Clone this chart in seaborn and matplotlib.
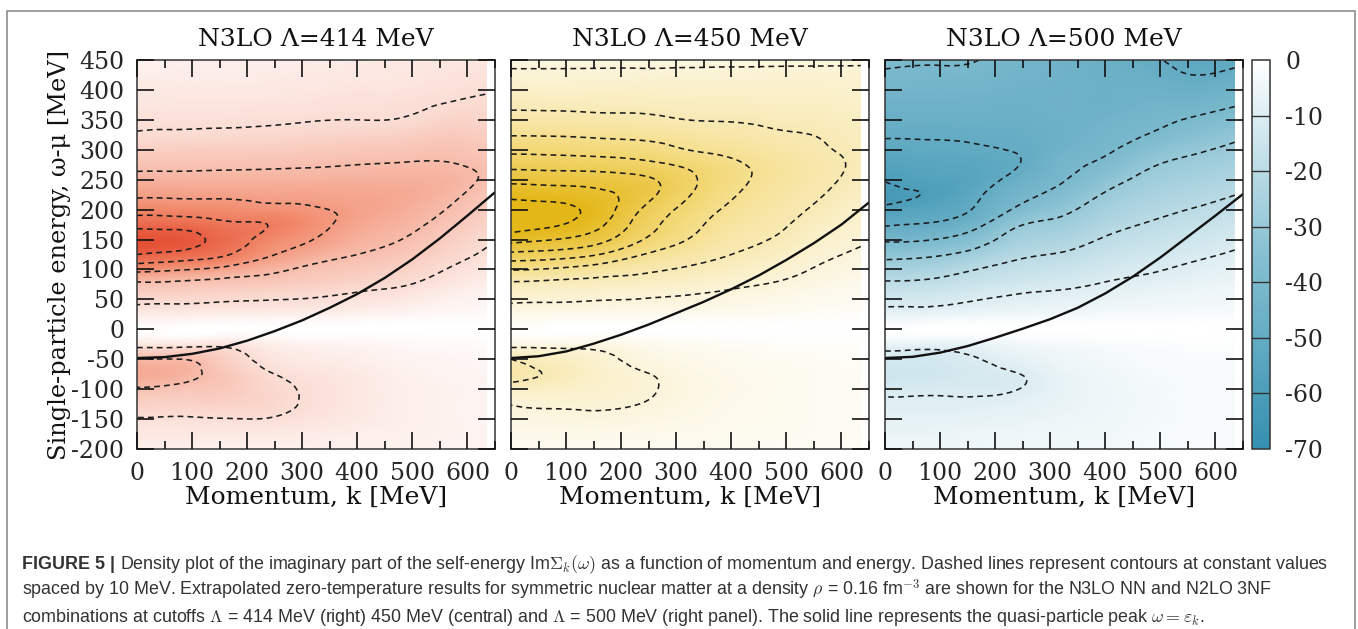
import numpy as np
import matplotlib
matplotlib.use("Agg")
import matplotlib.pyplot as plt
import matplotlib.tri as mtri
from matplotlib.colors import LinearSegmentedColormap, Normalize
from matplotlib.cm import ScalarMappable
from matplotlib.patches import Rectangle
import seaborn as sns

# ---------------------------------------------------------------------------
# Data: Im Sigma_k(omega) [MeV] sampled on a (momentum, energy) grid
# ---------------------------------------------------------------------------
momentum = [0, 80, 160, 240, 320, 400, 480, 560, 635]          # k [MeV]
energy = list(range(-200, 451, 25))                             # omega - mu [MeV]

# one row per energy (from -200 up to 450), one column per momentum
im_sigma_414 = [
    [-4.5, -4.5, -4.5, -4.5, -4.5, -4.0, -4.0, -3.5, -3.0],
    [-7.0, -7.0, -6.5, -6.5, -6.0, -5.0, -4.5, -4.0, -3.5],
    [-9.5, -9.3, -9.8, -9.7, -8.0, -6.5, -5.0, -4.0, -3.5],
    [-14.0, -13.5, -13.5, -12.0, -9.0, -7.0, -5.0, -4.0, -3.5],
    [-19.0, -17.5, -16.0, -12.0, -9.0, -7.0, -5.0, -4.0, -3.5],
    [-25.5, -23.0, -16.5, -10.5, -8.0, -6.5, -4.5, -3.5, -3.0],
    [-21.0, -20.0, -14.0, -8.0, -6.0, -5.0, -3.5, -3.0, -2.5],
    [-7.0, -7.0, -8.0, -5.0, -3.5, -3.0, -2.0, -1.5, -1.0],
    [0.0, 0.0, 0.0, 0.0, 0.0, 0.0, 0.0, 0.0, 0.0],
    [-6.0, -5.7, -5.3, -5.1, -4.8, -4.0, -3.0, -2.0, -1.5],
    [-12.0, -11.5, -10.7, -10.2, -9.6, -8.3, -7.0, -4.5, -3.0],
    [-18.0, -17.8, -16.7, -15.8, -14.3, -12.3, -10.5, -7.5, -5.0],
    [-33.0, -30.7, -27.0, -22.3, -18.1, -16.2, -13.6, -10.0, -7.2],
    [-50.0, -46.5, -41.0, -31.0, -24.5, -20.0, -16.9, -12.8, -9.0],
    [-56.0, -54.0, -46.0, -36.0, -30.0, -23.5, -20.0, -15.0, -10.9],
    [-47.0, -46.0, -42.0, -39.8, -33.0, -26.5, -22.5, -17.6, -13.0],
    [-36.0, -35.7, -34.6, -33.0, -31.0, -28.0, -24.5, -20.0, -15.0],
    [-28.5, -28.3, -28.2, -27.4, -27.4, -26.5, -25.5, -22.0, -17.0],
    [-23.0, -22.8, -23.0, -23.0, -23.3, -23.5, -23.5, -22.8, -19.0],
    [-18.0, -18.2, -18.5, -18.8, -19.3, -20.0, -20.5, -20.5, -18.5],
    [-14.5, -14.6, -14.9, -15.2, -15.9, -16.8, -17.2, -18.3, -16.5],
    [-10.5, -10.9, -11.2, -11.6, -12.6, -13.2, -14.0, -15.8, -14.5],
    [-9.0, -9.0, -9.1, -9.4, -9.8, -10.0, -10.3, -12.8, -12.5],
    [-7.5, -7.8, -7.8, -8.2, -8.5, -9.0, -9.3, -10.2, -11.0],
    [-6.5, -6.6, -6.6, -7.0, -7.4, -8.0, -8.1, -9.0, -9.7],
    [-5.0, -5.6, -5.5, -6.0, -6.5, -7.0, -7.3, -8.0, -8.6],
    [-4.0, -4.5, -5.0, -5.0, -5.5, -6.0, -6.5, -7.0, -7.5],
]

im_sigma_450 = [
    [-4.0, -4.0, -4.0, -4.0, -4.0, -4.0, -3.5, -3.0, -3.0],
    [-6.0, -6.0, -6.0, -5.5, -5.0, -4.5, -4.0, -3.5, -3.0],
    [-8.0, -8.0, -8.5, -7.5, -6.5, -5.0, -4.5, -3.5, -3.0],
    [-10.2, -11.0, -11.0, -9.8, -7.5, -5.5, -4.5, -3.5, -3.0],
    [-16.0, -15.0, -13.0, -11.0, -8.0, -6.0, -4.5, -3.5, -3.0],
    [-23.0, -19.0, -14.0, -10.5, -7.5, -5.5, -4.5, -3.5, -3.0],
    [-20.0, -16.0, -12.0, -8.0, -6.0, -4.5, -3.5, -3.0, -2.5],
    [-7.0, -7.0, -7.0, -5.0, -3.5, -2.5, -2.0, -1.5, -1.0],
    [0.0, 0.0, 0.0, 0.0, 0.0, 0.0, 0.0, 0.0, 0.0],
    [-5.7, -5.4, -5.1, -4.9, -4.5, -3.8, -3.1, -2.3, -1.8],
    [-11.6, -11.0, -10.3, -9.8, -9.0, -7.6, -6.3, -4.6, -3.6],
    [-18.2, -17.4, -16.5, -15.3, -13.6, -11.5, -9.4, -7.0, -5.4],
    [-30.7, -28.7, -25.2, -21.7, -19.0, -16.0, -12.7, -9.3, -7.2],
    [-47.3, -45.3, -40.0, -30.0, -24.0, -20.0, -16.1, -11.6, -9.0],
    [-63.8, -60.0, -53.3, -40.0, -30.0, -22.7, -19.4, -14.0, -10.8],
    [-75.0, -71.0, -62.0, -45.0, -33.5, -25.5, -21.5, -16.3, -12.5],
    [-75.0, -73.0, -65.5, -49.0, -37.0, -28.2, -23.3, -18.6, -14.0],
    [-67.2, -65.8, -62.5, -54.0, -41.0, -31.0, -25.0, -20.5, -15.8],
    [-57.1, -56.2, -55.2, -52.0, -42.5, -33.0, -26.5, -22.0, -17.5],
    [-46.8, -46.0, -45.2, -43.0, -38.0, -31.8, -26.7, -22.5, -18.5],
    [-37.4, -37.0, -36.0, -34.5, -30.0, -27.3, -24.0, -21.0, -18.0],
    [-29.5, -29.3, -28.4, -27.3, -25.0, -23.2, -21.0, -19.7, -17.0],
    [-23.4, -23.0, -22.3, -21.8, -20.0, -19.5, -18.5, -17.6, -15.8],
    [-18.4, -18.3, -18.0, -17.8, -17.0, -16.8, -16.3, -15.8, -14.5],
    [-14.8, -14.5, -14.6, -14.8, -14.3, -14.2, -14.0, -13.9, -13.0],
    [-11.2, -11.2, -11.3, -11.4, -11.5, -11.6, -11.7, -11.8, -11.9],
    [-8.5, -8.5, -8.5, -8.5, -8.5, -8.5, -8.5, -8.5, -8.5],
]

im_sigma_500 = [
    [-4.5, -4.5, -4.5, -4.0, -4.0, -3.5, -3.0, -2.5, -2.5],
    [-6.0, -6.0, -5.5, -5.0, -4.5, -4.0, -3.0, -2.5, -2.5],
    [-7.8, -7.5, -7.0, -6.5, -5.5, -4.5, -3.5, -2.5, -2.5],
    [-9.3, -9.0, -9.0, -8.0, -6.5, -5.0, -3.5, -2.5, -2.5],
    [-11.3, -11.2, -11.0, -10.1, -7.0, -5.0, -3.5, -2.5, -2.5],
    [-14.3, -13.5, -12.0, -10.2, -6.5, -4.5, -3.0, -2.5, -2.5],
    [-12.0, -12.5, -10.5, -7.5, -5.0, -3.5, -2.5, -2.0, -2.0],
    [-6.5, -7.0, -6.0, -4.0, -3.0, -2.0, -1.5, -1.0, -1.0],
    [0.0, 0.0, 0.0, 0.0, 0.0, 0.0, 0.0, 0.0, 0.0],
    [-6.9, -6.4, -5.2, -4.4, -3.8, -3.1, -2.7, -2.2, -1.9],
    [-13.0, -12.4, -10.4, -8.8, -7.7, -6.3, -5.3, -4.4, -3.7],
    [-18.5, -17.8, -15.3, -13.0, -11.6, -9.4, -8.0, -6.6, -5.6],
    [-25.1, -24.2, -20.3, -17.3, -15.5, -12.7, -10.7, -8.8, -7.4],
    [-32.8, -31.4, -27.2, -21.6, -19.4, -16.0, -13.6, -11.3, -9.3],
    [-41.5, -40.4, -35.0, -26.2, -23.6, -19.3, -16.5, -14.1, -11.7],
    [-50.8, -49.3, -43.3, -31.0, -27.8, -22.7, -19.4, -16.9, -14.5],
    [-57.6, -54.2, -49.7, -38.5, -32.1, -26.0, -22.2, -19.7, -17.3],
    [-62.5, -59.3, -52.2, -43.0, -37.0, -29.3, -25.0, -22.4, -20.1],
    [-59.6, -56.9, -54.5, -47.0, -40.7, -33.6, -27.8, -25.2, -22.9],
    [-56.0, -54.4, -53.4, -50.3, -42.6, -38.0, -30.9, -28.0, -25.6],
    [-52.4, -51.7, -51.0, -49.5, -44.5, -41.0, -35.3, -31.1, -28.4],
    [-49.3, -49.3, -48.9, -48.2, -46.0, -42.5, -39.7, -35.2, -31.8],
    [-47.2, -47.2, -47.0, -47.0, -45.7, -44.0, -41.7, -39.2, -36.1],
    [-45.0, -45.2, -45.2, -45.8, -45.3, -45.7, -43.5, -42.9, -40.5],
    [-42.8, -43.1, -43.4, -44.5, -45.0, -46.0, -45.3, -46.4, -44.4],
    [-40.7, -41.1, -41.5, -43.3, -44.6, -46.3, -47.2, -50.0, -48.3],
    [-39.0, -39.5, -39.7, -42.5, -44.3, -46.5, -49.0, -52.0, -51.5],
]

# quasi-particle peak omega = eps_k
qp_momentum = [0, 50, 100, 150, 200, 250, 300, 350, 400, 450, 500, 550, 600, 650]
qp_energy_414 = [-48, -46.5, -41, -32, -19, -3, 15, 36, 59, 86, 117, 152, 190, 229]
qp_energy_450 = [-48, -45, -37, -24, -9, 8, 27, 46, 67, 90, 116, 144, 175, 212]
qp_energy_500 = [-48, -46, -39, -28, -14, 1, 17, 36, 60, 88, 120, 155, 190, 226]

panel_titles = ["N3LO \u039b=414 MeV", "N3LO \u039b=450 MeV", "N3LO \u039b=500 MeV"]
contour_levels = [-70, -60, -50, -40, -30, -20, -10]
colorbar_ticks = [0, -10, -20, -30, -40, -50, -60, -70]
x_major = [0, 100, 200, 300, 400, 500, 600]
x_minor = [50, 150, 250, 350, 450, 550, 650]
y_ticks = [-200, -150, -100, -50, 0, 50, 100, 150, 200, 250, 300, 350, 400, 450]

# ---------------------------------------------------------------------------
# Style
# ---------------------------------------------------------------------------
sns.set_style("ticks")
plt.rcParams["font.family"] = ["DejaVu Serif"]
plt.rcParams["mathtext.fontset"] = "cm"
plt.rcParams["axes.unicode_minus"] = False
plt.rcParams["axes.axisbelow"] = False

INK = "#1c1c1c"
TICK_INK = "#111111"
# colour scales run from the most negative value (-70) up to white at 0
cmaps = [
    LinearSegmentedColormap.from_list("reds", ["#dd2a10", "#f28a6c", "#ffffff"]),
    LinearSegmentedColormap.from_list("golds", ["#e4b718", "#f4da7c", "#ffffff"]),
    LinearSegmentedColormap.from_list("teals", ["#3590b0", "#86c0d2", "#ffffff"]),
]

W_PX, H_PX = 1358, 629
fig = plt.figure(figsize=(W_PX / 100, H_PX / 100), dpi=100)
fig.patch.set_facecolor("white")


def fx(px):
    return px / W_PX


def fy(py):
    return 1 - py / H_PX


def style_ticks(ax):
    ax.set_xticks(x_major)
    ax.set_xticks(x_minor, minor=True)
    ax.set_yticks(y_ticks)
    ax.tick_params(axis="both", which="both", direction="in", top=True, right=True,
                   bottom=True, left=True, width=1.2, color=TICK_INK, zorder=10)
    ax.tick_params(axis="both", which="major", length=12, labelsize=17, pad=9)
    ax.tick_params(axis="x", which="minor", length=6)


ax_top, ax_bot = 60, 449
panel_left = [137, 511, 885]
panel_w = 358
axes = [fig.add_axes([fx(l), fy(ax_bot), fx(panel_w), (ax_bot - ax_top) / H_PX])
        for l in panel_left]

# smooth surface through the sampled grid (cubic, in scaled coordinates)
nk, nw = len(momentum), len(energy)
KS, WS = np.meshgrid(np.asarray(momentum) / 80.0, np.asarray(energy) / 25.0)
cells = []
for j in range(nw - 1):
    for i in range(nk - 1):
        a = j * nk + i
        cells.append([a, a + 1, a + nk + 1])
        cells.append([a, a + nk + 1, a + nk])
base_tri = mtri.Triangulation(KS.ravel(), WS.ravel(), np.array(cells))
k_fine = np.linspace(momentum[0], momentum[-1], 320)
w_fine = np.linspace(energy[0], energy[-1], 330)
KF, WF = np.meshgrid(k_fine, w_fine)

fields = [im_sigma_414, im_sigma_450, im_sigma_500]
qp_curves = [qp_energy_414, qp_energy_450, qp_energy_500]

for idx, ax in enumerate(axes):
    z = np.asarray(fields[idx], dtype=float).ravel()
    interp = mtri.CubicTriInterpolator(base_tri, z, kind="min_E")
    surface = interp(KF / 80.0, WF / 25.0)

    ax.imshow(surface, origin="lower", aspect="auto", cmap=cmaps[idx],
              norm=Normalize(vmin=-70, vmax=0),
              extent=[momentum[0], momentum[-1], energy[0], energy[-1]],
              interpolation="bilinear", zorder=0)
    cs = ax.contour(KF, WF, surface, levels=contour_levels, colors=INK,
                    linewidths=1.15, linestyles="--", zorder=1)
    cs.set_linestyle((0, (3.6, 2.6)))

    sns.lineplot(x=qp_momentum, y=qp_curves[idx], ax=ax, color="#111111",
                 linewidth=1.7, estimator=None, sort=False, zorder=2)

    ax.set_xlim(0, 650)
    ax.set_ylim(-200, 450)
    style_ticks(ax)
    for sp in ax.spines.values():
        sp.set_linewidth(1.1)
        sp.set_color("#333333")
    ax.set_title(panel_titles[idx], fontsize=18, pad=10, color="#111111")
    ax.set_xlabel("Momentum, k [MeV]", fontsize=18, color="#111111")
    ax.xaxis.set_label_coords(0.5, (ax_bot - 497) / (ax_bot - ax_top))
    ax.xaxis.label.set_verticalalignment("center")
    if idx == 0:
        ax.set_ylabel("Single-particle energy, \u03c9-\u03bc [MeV]", fontsize=17.4,
                      color="#111111")
        ax.yaxis.set_label_coords((60 - 137) / panel_w, 0.5)
        ax.yaxis.label.set_verticalalignment("center")
    else:
        ax.tick_params(axis="y", labelleft=False)

# colour bar
cax = fig.add_axes([fx(1252), fy(ax_bot), fx(18), (ax_bot - ax_top) / H_PX])
sm = ScalarMappable(norm=Normalize(vmin=-70, vmax=0), cmap=cmaps[2])
cb = fig.colorbar(sm, cax=cax, ticks=colorbar_ticks)
cb.outline.set_linewidth(1.1)
cb.outline.set_edgecolor("#333333")
for v in colorbar_ticks[1:-1]:
    cax.axhline(v, color="#333333", linewidth=1.0)
cax.tick_params(length=0, labelsize=17, pad=11)
cb.ax.set_yticklabels([str(t) for t in colorbar_ticks])

# caption
cap_color = "#333333"
cap_size = 12.9
cap_font = ["Liberation Sans", "DejaVu Sans"]
cap_x = fx(22)
bold = fig.text(cap_x, fy(569), "FIGURE 5 |", fontsize=cap_size, fontweight="bold",
                family=cap_font, color=cap_color, va="baseline")
fig.canvas.draw()
bb = bold.get_window_extent()
fig.text(bb.x1 / W_PX + fx(5), fy(569),
         "Density plot of the imaginary part of the self-energy Im$\\Sigma_k(\\omega)$ as a "
         "function of momentum and energy. Dashed lines represent contours at constant values",
         fontsize=cap_size, family=cap_font, color=cap_color, va="baseline")
fig.text(cap_x, fy(595),
         "spaced by 10 MeV. Extrapolated zero-temperature results for symmetric nuclear matter "
         "at a density $\\rho$ = 0.16 fm$^{-3}$ are shown for the N3LO NN and N2LO 3NF",
         fontsize=cap_size, family=cap_font, color=cap_color, va="baseline")
fig.text(cap_x, fy(622),
         "combinations at cutoffs $\\Lambda$ = 414 MeV (right) 450 MeV (central) and "
         "$\\Lambda$ = 500 MeV (right panel). The solid line represents the quasi-particle "
         "peak $\\omega = \\varepsilon_k$.",
         fontsize=cap_size, family=cap_font, color=cap_color, va="baseline")

# frame around the figure
fig.add_artist(Rectangle((fx(7), -0.1), fx(1348), 1.1 - 11 / H_PX,
                         transform=fig.transFigure, fill=False,
                         edgecolor="#8c8c8c", linewidth=1.2, clip_on=False))

# inward tick marks on every panel edge: keep them unclipped and on top
for idx, ax in enumerate(axes):
    style_ticks(ax)
    if idx > 0:
        ax.tick_params(axis="y", labelleft=False)
    ax.xaxis.set_zorder(10)
    ax.yaxis.set_zorder(10)
fig.canvas.draw()
for ax in axes:
    for minor in (False, True):
        size = 6 if minor else 12
        for axis in (ax.xaxis, ax.yaxis):
            if minor and axis is ax.yaxis:
                continue
            for tl in axis.get_ticklines(minor=minor):
                tl.set_clip_on(False)
                tl.set_clip_path(None)
                tl.set_visible(True)
                tl.set_alpha(1.0)
                tl.set_markersize(size)
                tl.set_markeredgewidth(1.2)
                tl.set_markeredgecolor(TICK_INK)
                tl.set_zorder(10)

fig.savefig("out.png", dpi=100)
